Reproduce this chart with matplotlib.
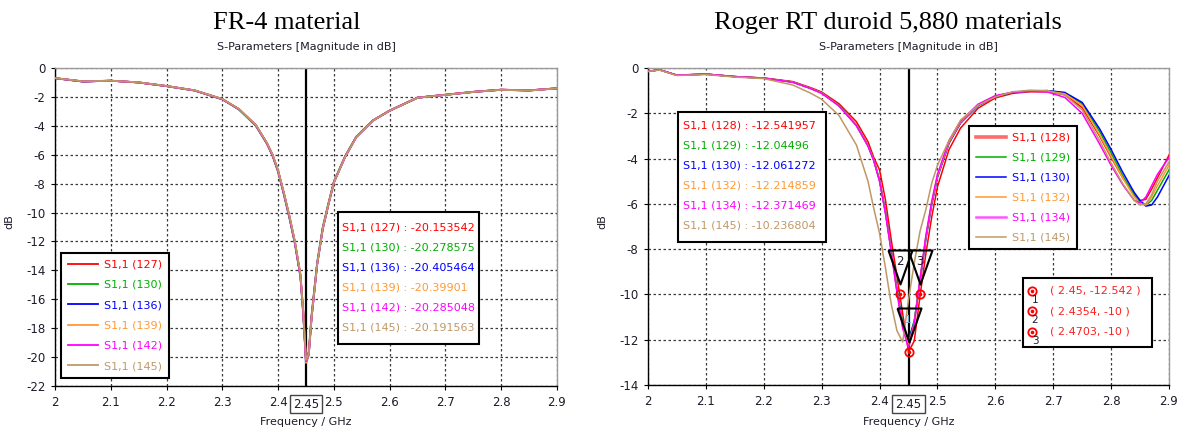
import matplotlib
matplotlib.use("Agg")
import matplotlib.pyplot as plt
import matplotlib.transforms as mtrans
from matplotlib.lines import Line2D
from matplotlib.patches import Rectangle

plt.rcParams['axes.unicode_minus'] = False
plt.rcParams['font.family'] = ['DejaVu Sans']

# ---------------- data ----------------
x_ticks = [2.0, 2.1, 2.2, 2.3, 2.4, 2.5, 2.6, 2.7, 2.8, 2.9]
x_tick_labels = ['2', '2.1', '2.2', '2.3', '2.4', '2.5', '2.6', '2.7', '2.8', '2.9']
fr4_yticks = [0, -2, -4, -6, -8, -10, -12, -14, -16, -18, -20, -22]
rt_yticks = [0, -2, -4, -6, -8, -10, -12, -14]

series_colors = ['#ff0000', '#00b000', '#0000ff', '#ff9933', '#ff00ff', '#c09868']

# FR-4 panel
fr4_ids = ['127', '130', '136', '139', '142', '145']
fr4_readout = [-20.153542, -20.278575, -20.405464, -20.39901, -20.285048, -20.191563]
freq_fr4 = [2.00, 2.05, 2.10, 2.15, 2.20, 2.25, 2.30, 2.33, 2.36, 2.38, 2.39, 2.40,
            2.41, 2.42, 2.43, 2.44, 2.445, 2.45, 2.455, 2.46, 2.47, 2.48, 2.49, 2.50,
            2.52, 2.54, 2.57, 2.60, 2.65, 2.70, 2.75, 2.80, 2.85, 2.90]
s127 = [-0.70, -0.93, -0.88, -1.00, -1.25, -1.55, -2.15, -2.85, -3.95, -5.20, -6.00, -7.10,
        -8.60, -10.20, -12.00, -14.30, -16.80, -20.15, -19.70, -17.20, -13.55, -11.10, -9.45, -7.90,
        -6.15, -4.78, -3.63, -2.95, -2.05, -1.85, -1.65, -1.50, -1.55, -1.40]
s130 = [-0.70, -0.93, -0.88, -1.00, -1.26, -1.56, -2.17, -2.88, -4.00, -5.25, -6.08, -7.20,
        -8.72, -10.35, -12.15, -14.45, -17.00, -20.28, -19.60, -17.05, -13.45, -11.00, -9.38, -7.85,
        -6.10, -4.75, -3.62, -2.94, -2.05, -1.85, -1.65, -1.50, -1.55, -1.41]
s136 = [-0.71, -0.94, -0.88, -1.00, -1.25, -1.55, -2.16, -2.86, -3.97, -5.22, -6.03, -7.14,
        -8.65, -10.27, -12.08, -14.40, -16.95, -20.41, -19.85, -17.30, -13.60, -11.15, -9.48, -7.92,
        -6.16, -4.79, -3.64, -2.96, -2.06, -1.86, -1.66, -1.51, -1.56, -1.41]
s139 = [-0.70, -0.93, -0.87, -1.00, -1.25, -1.55, -2.15, -2.85, -3.96, -5.21, -6.02, -7.12,
        -8.63, -10.24, -12.05, -14.37, -16.92, -20.40, -19.82, -17.28, -13.58, -11.13, -9.47, -7.91,
        -6.15, -4.78, -3.63, -2.95, -2.05, -1.85, -1.65, -1.50, -1.55, -1.40]
s142 = [-0.70, -0.93, -0.88, -1.00, -1.25, -1.55, -2.15, -2.86, -3.96, -5.22, -6.03, -7.13,
        -8.64, -10.25, -12.06, -14.36, -16.88, -20.29, -19.72, -17.22, -13.56, -11.12, -9.46, -7.90,
        -6.15, -4.78, -3.63, -2.95, -2.05, -1.85, -1.65, -1.50, -1.55, -1.40]
s145 = [-0.70, -0.92, -0.88, -0.99, -1.24, -1.54, -2.14, -2.84, -3.94, -5.18, -5.98, -7.08,
        -8.57, -10.17, -11.96, -14.25, -16.75, -20.19, -19.75, -17.25, -13.57, -11.12, -9.46, -7.91,
        -6.16, -4.79, -3.64, -2.96, -2.06, -1.86, -1.66, -1.51, -1.56, -1.41]
fr4_series = [s127, s130, s136, s139, s142, s145]

# Rogers RT duroid panel
rt_ids = ['128', '129', '130', '132', '134', '145']
rt_readout = [-12.541957, -12.04496, -12.061272, -12.214859, -12.371469, -10.236804]
freq_rt = [2.00, 2.02, 2.05, 2.10, 2.15, 2.20, 2.25, 2.28, 2.30, 2.33,
           2.36, 2.38, 2.39, 2.40, 2.41, 2.42, 2.43, 2.44, 2.45, 2.46,
           2.47, 2.48, 2.49, 2.50, 2.52, 2.54, 2.57, 2.60, 2.63, 2.66,
           2.69, 2.72, 2.75, 2.78, 2.80, 2.82, 2.84, 2.85, 2.86, 2.87,
           2.88, 2.90]
r128 = [-0.15, -0.08, -0.32, -0.27, -0.38, -0.44, -0.60, -0.86, -1.06, -1.58,
        -2.37, -3.25, -3.95, -4.50, -5.80, -7.55, -9.20, -10.85, -12.54, -12.05,
        -10.05, -8.20, -6.60, -5.25, -3.60, -2.65, -1.78, -1.32, -1.12, -1.05,
        -1.05, -1.18, -1.75, -3.00, -3.95, -4.85, -5.60, -5.85, -5.80, -5.35,
        -4.85, -3.85]
r129 = [-0.15, -0.08, -0.32, -0.27, -0.38, -0.45, -0.62, -0.89, -1.10, -1.66,
        -2.52, -3.42, -4.05, -4.95, -6.30, -8.00, -9.75, -11.30, -12.04, -11.15,
        -9.35, -7.50, -6.00, -4.80, -3.30, -2.42, -1.66, -1.26, -1.08, -1.02,
        -1.00, -1.10, -1.58, -2.80, -3.75, -4.75, -5.60, -5.90, -6.05, -5.85,
        -5.40, -4.50]
r130 = [-0.15, -0.08, -0.32, -0.27, -0.38, -0.45, -0.62, -0.89, -1.10, -1.66,
        -2.53, -3.43, -4.07, -4.98, -6.33, -8.03, -9.80, -11.35, -12.06, -11.20,
        -9.40, -7.55, -6.05, -4.83, -3.32, -2.43, -1.67, -1.26, -1.08, -1.02,
        -1.00, -1.08, -1.52, -2.68, -3.60, -4.60, -5.50, -5.85, -6.10, -6.05,
        -5.70, -4.75]
r132 = [-0.15, -0.08, -0.32, -0.27, -0.38, -0.45, -0.62, -0.89, -1.10, -1.66,
        -2.53, -3.43, -4.06, -4.97, -6.35, -8.05, -9.85, -11.45, -12.21, -11.25,
        -9.35, -7.48, -5.98, -4.78, -3.28, -2.40, -1.64, -1.24, -1.07, -1.02,
        -1.02, -1.14, -1.65, -2.95, -3.90, -4.85, -5.70, -6.00, -6.05, -5.70,
        -5.20, -4.30]
r134 = [-0.15, -0.08, -0.31, -0.27, -0.38, -0.45, -0.63, -0.90, -1.12, -1.68,
        -2.55, -3.45, -4.10, -5.00, -6.40, -8.10, -9.90, -11.50, -12.37, -11.30,
        -9.30, -7.40, -5.90, -4.70, -3.20, -2.35, -1.60, -1.22, -1.07, -1.03,
        -1.06, -1.30, -2.00, -3.35, -4.30, -5.15, -5.85, -5.95, -5.70, -5.20,
        -4.70, -3.95]
r145 = [-0.15, -0.09, -0.33, -0.29, -0.40, -0.47, -0.75, -1.10, -1.38, -2.10,
        -3.40, -5.00, -6.20, -7.30, -8.80, -10.40, -11.60, -12.10, -10.24, -8.60,
        -7.20, -6.25, -5.10, -4.30, -3.20, -2.30, -1.65, -1.28, -1.05, -0.98,
        -1.00, -1.20, -1.85, -3.20, -4.20, -5.10, -5.85, -6.05, -6.00, -5.60,
        -5.00, -4.15]
rt_series = [r128, r129, r130, r132, r134, r145]

marker_ids = ['1', '2', '3']
marker_freqs = [2.45, 2.4354, 2.4703]
marker_vals = [-12.542, -10, -10]
ref_freq = 2.45

# ---------------- layout ----------------
W, H = 1184, 432
fig = plt.figure(figsize=(W / 100, H / 100), dpi=100)

BOX_L = (55, 68, 557, 386)
BOX_R = (648, 68, 1169, 385)


def add_axes_px(box):
    x0, y0, x1, y1 = box
    return fig.add_axes([x0 / W, 1 - y1 / H, (x1 - x0) / W, (y1 - y0) / H])


def px2ax(box, x, y):
    x0, y0, x1, y1 = box
    return (x - x0) / (x1 - x0), (y1 - y) / (y1 - y0)


def style_axes(ax, box, ylim, yticks):
    ax.set_xlim(2.0, 2.9)
    ax.set_ylim(*ylim)
    ax.set_xticks(x_ticks)
    ax.set_xticklabels(x_tick_labels)
    ax.set_yticks(yticks)
    ax.set_yticklabels([str(v) for v in yticks])
    ax.grid(True, color='#3a3a3a', linestyle=(0, (2, 2)), linewidth=0.9)
    ax.set_axisbelow(True)
    ax.tick_params(direction='out', length=3, width=0.8, labelsize=8.5,
                   colors='black', labelcolor='#1c1c2a', pad=4)
    for s in ['left', 'bottom']:
        ax.spines[s].set_color('black')
        ax.spines[s].set_linewidth(1.0)
    for s in ['top', 'right']:
        ax.spines[s].set_color('#9a9a9a')
        ax.spines[s].set_linewidth(1.0)
    x0, y0, x1, y1 = box
    ax.set_xlabel('Frequency / GHz', fontsize=8, color='#1c1c2a')
    ax.xaxis.set_label_coords(0.5, px2ax(box, 0, 417)[1])
    ax.set_ylabel('dB', fontsize=8, color='#1c1c2a')
    ax.yaxis.set_label_coords(px2ax(box, x0 - 41, 0)[0], px2ax(box, 0, 222)[1])
    # reference frequency line and boxed label
    ax.axvline(ref_freq, color='black', lw=1.6, zorder=2.5)
    tr = mtrans.blended_transform_factory(ax.transData, ax.transAxes)
    ax.text(ref_freq, px2ax(box, 0, 404)[1], f'{ref_freq:g}', transform=tr,
            ha='center', va='center', fontsize=8.5, color='#1c1c2a',
            bbox=dict(boxstyle='square,pad=0.25', fc='white', ec='#444444', lw=1.0))
    # subtitle
    fig.text((x0 + x1) / 2 / W, 1 - 47 / H, 'S-Parameters [Magnitude in dB]',
             ha='center', va='center', fontsize=8, color='#1c1c2a')


def readout_box(ax, box, rect, ids, vals, text_x, ys):
    bx0, by0, bx1, by1 = rect
    ax0, ay0 = px2ax(box, bx0, by1)
    ax1, ay1 = px2ax(box, bx1, by0)
    ax.add_patch(Rectangle((ax0, ay0), ax1 - ax0, ay1 - ay0, transform=ax.transAxes,
                           fc='white', ec='black', lw=1.5, zorder=6))
    for i, (sid, v) in enumerate(zip(ids, vals)):
        tx, ty = px2ax(box, text_x, ys[i])
        ax.text(tx, ty, f'S1,1 ({sid}) : {v}', transform=ax.transAxes,
                ha='left', va='center', fontsize=8, color=series_colors[i], zorder=7)


def line_legend(ax, box, topleft, ids, handles_kw, labelspacing):
    handles = [Line2D([], [], **kw) for kw in handles_kw]
    labels = [f'S1,1 ({sid})' for sid in ids]
    leg = ax.legend(handles, labels, loc='upper left',
                    bbox_to_anchor=px2ax(box, *topleft), borderaxespad=0,
                    fontsize=8, labelspacing=labelspacing, handlelength=2.7,
                    handletextpad=0.6, borderpad=0.6, fancybox=False, framealpha=1)
    leg.get_frame().set_edgecolor('black')
    leg.get_frame().set_linewidth(1.5)
    for t, c in zip(leg.get_texts(), series_colors):
        t.set_color(c)
    leg.set_zorder(8)
    return leg


# ---------------- left: FR-4 ----------------
axL = add_axes_px(BOX_L)
style_axes(axL, BOX_L, (-22, 0), fr4_yticks)
for vals, c in zip(fr4_series, series_colors):
    axL.plot(freq_fr4, vals, color=c, lw=1.3, zorder=3)
readout_box(axL, BOX_L, (338, 212, 479, 344), fr4_ids, fr4_readout, 342,
            [227.5, 247.5, 267.5, 287.5, 307.5, 328])
line_legend(axL, BOX_L, (61, 253), fr4_ids,
            [dict(color=c, lw=1.3) for c in series_colors], 0.93)

fig.text(287 / W, 1 - 23 / H, 'FR-4 material', ha='center', va='center',
         fontsize=19, family='Liberation Serif', color='black')

# ---------------- right: Rogers ----------------
axR = add_axes_px(BOX_R)
style_axes(axR, BOX_R, (-14, 0), rt_yticks)
for vals, c in zip(rt_series, series_colors):
    axR.plot(freq_rt, vals, color=c, lw=1.1, zorder=3)

# markers: triangles, circles, labels
tri = [(-12, 44), (12, 44), (0, 10), (-12, 44)]
tri_ms = 2 * 44 * 72 / 100
axR.plot(marker_freqs, marker_vals, linestyle='none', marker=tri, ms=tri_ms,
         mfc='none', mec='black', mew=1.5, zorder=5)
axR.plot(marker_freqs, marker_vals, linestyle='none', marker='o', ms=6,
         mfc='none', mec='#ff0000', mew=1.3, zorder=6)
axR.plot(marker_freqs, marker_vals, linestyle='none', marker='o', ms=1.6,
         color='#ff0000', zorder=6)
for mid, f, v in zip(marker_ids, marker_freqs, marker_vals):
    axR.annotate(mid, xy=(f, v), xytext=(0, 33 if mid != '1' else 32),
                 textcoords='offset pixels', ha='center', va='center',
                 fontsize=8.5 if mid != '1' else 7.5,
                 color='#1c1c2a' if mid != '1' else '#5aaed0', zorder=7)

readout_box(axR, BOX_R, (678, 112, 826, 242), rt_ids, rt_readout, 683,
            [125, 145.5, 166, 186, 206, 226])
hk = [dict(color=c, lw=1.1) for c in series_colors]
hk[0] = dict(color='#ff6a6a', lw=2.6)
hk[4] = dict(color='#ff55ff', lw=1.8)
line_legend(axR, BOX_R, (969, 126), rt_ids, hk, 0.9)

# marker value box
mb = (1023, 278, 1152, 347)
a0 = px2ax(BOX_R, mb[0], mb[3])
a1 = px2ax(BOX_R, mb[2], mb[1])
axR.add_patch(Rectangle(a0, a1[0] - a0[0], a1[1] - a0[1], transform=axR.transAxes,
                        fc='white', ec='black', lw=1.5, zorder=8))
for i, (mid, f, v) in enumerate(zip(marker_ids, marker_freqs, marker_vals)):
    y = 290.7 + i * 20.5
    cx, cy = px2ax(BOX_R, 1032, y)
    axR.plot([cx], [cy], transform=axR.transAxes, marker='o', ms=6, mfc='none',
             mec='#ff0000', mew=1.3, zorder=9, clip_on=False)
    axR.plot([cx], [cy], transform=axR.transAxes, marker='o', ms=1.6,
             color='#ff0000', zorder=9, clip_on=False)
    nx, ny = px2ax(BOX_R, 1035, y + 9)
    axR.text(nx, ny, mid, transform=axR.transAxes, ha='center', va='center',
             fontsize=7.5, color='#1c1c2a', zorder=9)
    tx, ty = px2ax(BOX_R, 1050, y)
    axR.text(tx, ty, f'( {f:g}, {v:g} )', transform=axR.transAxes, ha='left',
             va='center', fontsize=8, color='#ff2020', zorder=9)

fig.text(888 / W, 1 - 23 / H, 'Roger RT duroid 5,880 materials', ha='center',
         va='center', fontsize=19, family='Liberation Serif', color='black')

fig.savefig('out.png', dpi=100, facecolor='white')
